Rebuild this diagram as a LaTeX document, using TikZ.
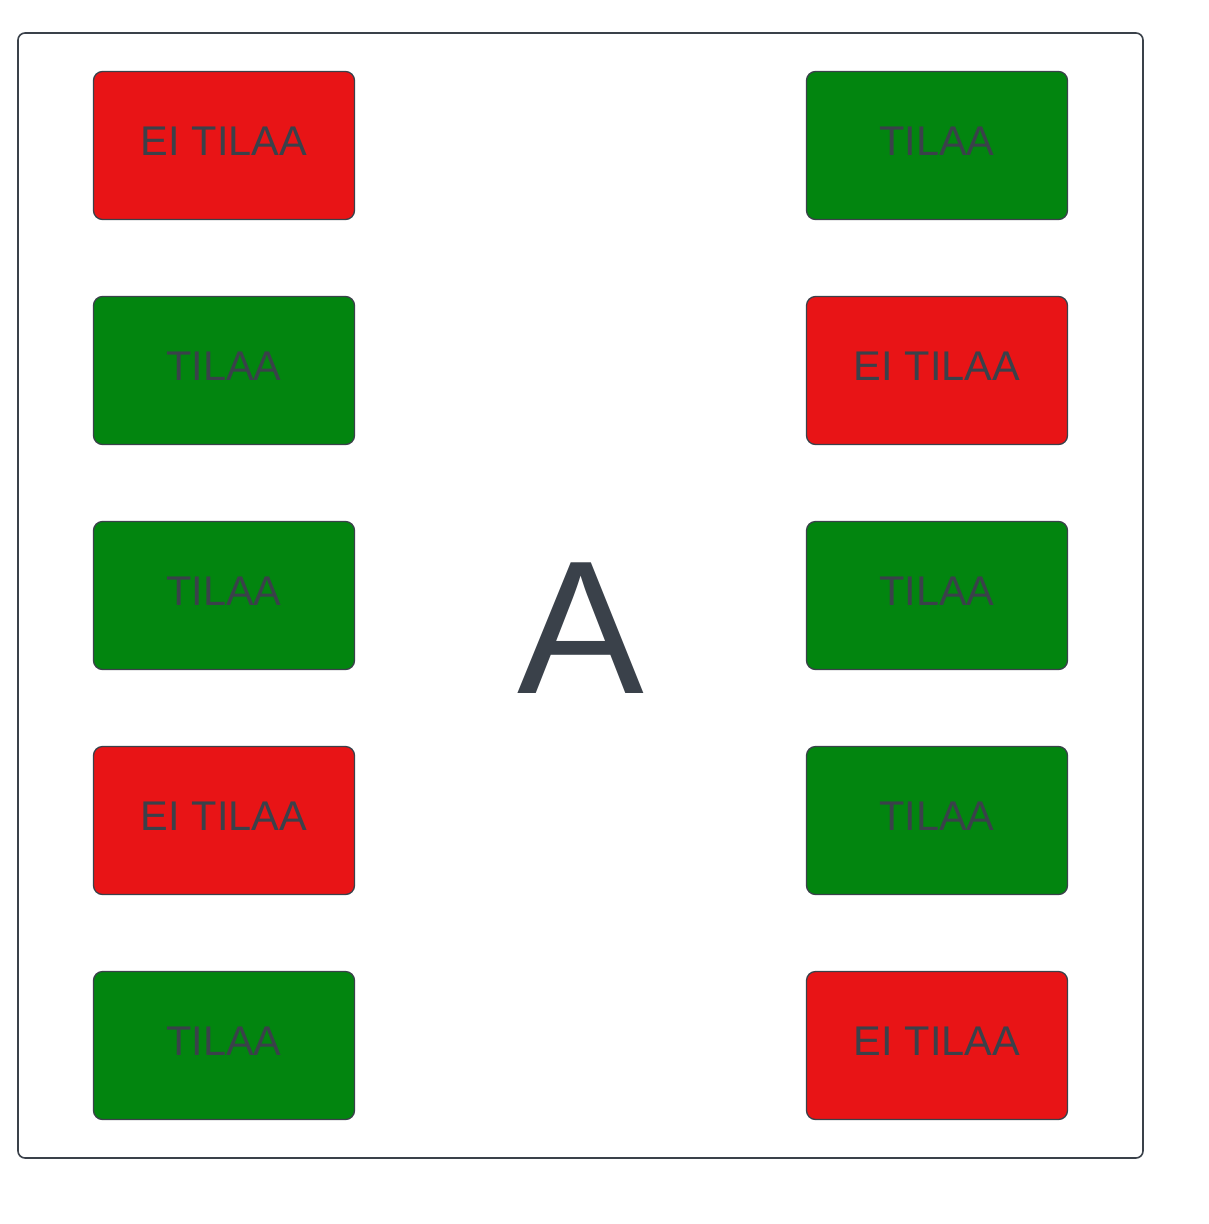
\documentclass[tikz,border=0pt]{standalone}
\usepackage{fontspec}
\setmainfont{Liberation Sans}
\usepackage{xcolor}
\definecolor{ink}{HTML}{3A414A}
\definecolor{seatred}{HTML}{E81416}
\definecolor{seatgreen}{HTML}{02850F}
\tikzset{
  seat/.style={draw=ink, line width=1.3pt, rounded corners=9pt,
    minimum width=261pt, minimum height=148pt, inner sep=0pt,
    text=ink, text height=30pt, text depth=10pt,
    font=\fontsize{41.5}{50}\selectfont},
  taken/.style={seat, fill=seatred},
  free/.style={seat, fill=seatgreen}
}
\begin{document}
\begin{tikzpicture}[x=1pt,y=-1pt]
        % page and frame
        \useasboundingbox (0,0) rectangle (1209,1224);
        \draw[draw=ink, line width=1.6pt, rounded corners=7pt] (18,33) rectangle (1143,1158);
        % seats, left and right
        \foreach \y/\ls/\lt/\rs/\rt [count=\i] in
            {145.5/taken/EI TILAA/free/TILAA,
             370.5/free/TILAA/taken/EI TILAA,
             595.5/free/TILAA/free/TILAA,
             820.5/taken/EI TILAA/free/TILAA,
             1045.5/free/TILAA/taken/EI TILAA}
          {
          \node[\ls] (L\i) at (224,\y) {\lt};
          \node[\rs] (R\i) at (937,\y) {\rt};
          }
        % car letter
        \node[text=ink, inner sep=0pt, font=\fontsize{190}{190}\selectfont] (car) at (580.5,628) {A};
      \end{tikzpicture}
\end{document}
